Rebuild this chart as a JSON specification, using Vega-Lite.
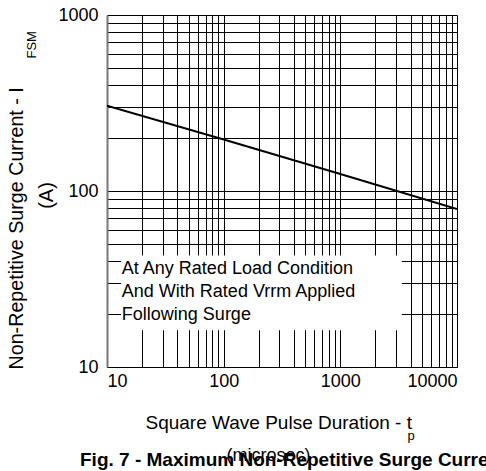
{
  "$schema": "https://vega.github.io/schema/vega-lite/v6.json",
  "width": 350,
  "height": 352,
  "autosize": {"type": "none"},
  "padding": {"left": 107, "top": 15, "right": 29, "bottom": 104},
  "background": "white",
  "config": {
    "view": {"stroke": null},
    "font": "Liberation Sans",
    "axis": {"labelFont": "Liberation Sans", "titleFont": "Liberation Sans", "titleFontWeight": "normal", "titleColor": "black", "labelColor": "black"}
  },
  "title": {
    "text": "Fig. 7 - Maximum Non-Repetitive Surge Current",
    "orient": "bottom",
    "anchor": "start",
    "frame": "group",
    "font": "Liberation Sans",
    "fontSize": 19,
    "fontWeight": "bold",
    "color": "black",
    "dx": -27,
    "offset": -13
  },
  "datasets": {
    "curve": [
      {"t": 10, "i": 305},
      {"t": 100, "i": 196},
      {"t": 1000, "i": 125},
      {"t": 10000, "i": 79}
    ],
    "box": [
      {"x1": 13.2, "x2": 3370, "y1": 43, "y2": 16.2}
    ],
    "note": [
      {"x": 13.4, "y": 33.8, "text": ["At Any Rated Load Condition", "And With Rated Vrrm Applied", "Following Surge"]}
    ]
  },
  "layer": [
    {
      "data": {"name": "curve"},
      "mark": {"type": "line", "color": "black", "strokeWidth": 2, "clip": true},
      "encoding": {
        "x": {
          "field": "t", "type": "quantitative",
          "scale": {"type": "log", "domain": [10, 10000], "nice": false},
          "axis": {
            "orient": "bottom",
            "values": [10, 20, 30, 40, 50, 60, 70, 80, 90, 100, 200, 300, 400, 500, 600, 700, 800, 900, 1000, 2000, 3000, 4000, 5000, 6000, 7000, 8000, 9000, 10000],
            "grid": true, "gridColor": "black", "gridOpacity": 1, "gridWidth": 1,
            "ticks": false,
            "domain": true, "domainColor": "black", "domainWidth": 1,
            "labelExpr": "datum.value == 10 || datum.value == 100 || datum.value == 1000 || datum.value == 10000 ? format(datum.value, 'd') : ''",
            "labelOverlap": false,
            "labelFontSize": 18,
            "labelPadding": 5,
            "title": "Square Wave Pulse Duration - t",
            "titleFontSize": 19,
            "titleX": 38, "titleY": 61,
            "titleAlign": "left", "titleBaseline": "alphabetic"
          }
        },
        "y": {
          "field": "i", "type": "quantitative",
          "scale": {"type": "log", "domain": [10, 1000], "nice": false},
          "axis": {
            "orient": "left",
            "values": [10, 20, 30, 40, 50, 60, 70, 80, 90, 100, 200, 300, 400, 500, 600, 700, 800, 900, 1000],
            "grid": true, "gridColor": "black", "gridOpacity": 1, "gridWidth": 1,
            "ticks": false,
            "domain": true, "domainColor": "#777777", "domainWidth": 2,
            "labelExpr": "datum.value == 10 || datum.value == 100 || datum.value == 1000 ? format(datum.value, 'd') : ''",
            "labelOverlap": false,
            "labelFontSize": 18,
            "labelPadding": 9,
            "labelBaseline": "middle",
            "title": "Non-Repetitive Surge Current - I",
            "titleFontSize": 19.7,
            "titleAngle": -90,
            "titleX": -85, "titleY": 354,
            "titleAlign": "left", "titleBaseline": "alphabetic"
          }
        }
      }
    },
    {
      "data": {"name": "box"},
      "mark": {"type": "rect", "fill": "white", "stroke": null},
      "encoding": {
        "x": {
          "field": "x1", "type": "quantitative",
          "scale": {"type": "log", "domain": [10, 10000], "nice": false},
          "axis": {
            "orient": "bottom", "labels": false, "ticks": false, "domain": false, "grid": false,
            "title": "(microsec)", "titleFontSize": 18,
            "titleX": 161, "titleY": 93,
            "titleAlign": "center", "titleBaseline": "alphabetic"
          }
        },
        "x2": {"field": "x2"},
        "y": {
          "field": "y1", "type": "quantitative",
          "scale": {"type": "log", "domain": [10, 1000], "nice": false},
          "axis": {
            "orient": "left", "labels": false, "ticks": false, "domain": false, "grid": false,
            "title": "(A)", "titleFontSize": 20, "titleAngle": -90,
            "titleX": -55, "titleY": 180,
            "titleAlign": "center", "titleBaseline": "alphabetic"
          }
        },
        "y2": {"field": "y2"}
      }
    },
    {
      "data": {"name": "note"},
      "mark": {"type": "text", "align": "left", "baseline": "alphabetic", "fontSize": 18, "lineHeight": 23, "font": "Liberation Sans", "color": "black"},
      "encoding": {
        "x": {
          "field": "x", "type": "quantitative",
          "scale": {"type": "log", "domain": [10, 10000], "nice": false},
          "axis": {
            "orient": "bottom", "labels": false, "ticks": false, "domain": false, "grid": false,
            "title": "p", "titleFontSize": 13,
            "titleX": 300, "titleY": 72,
            "titleAlign": "left", "titleBaseline": "alphabetic"
          }
        },
        "y": {
          "field": "y", "type": "quantitative",
          "scale": {"type": "log", "domain": [10, 1000], "nice": false},
          "axis": {
            "orient": "left", "labels": false, "ticks": false, "domain": false, "grid": false,
            "title": "FSM", "titleFontSize": 13, "titleAngle": -90,
            "titleX": -72, "titleY": 43,
            "titleAlign": "left", "titleBaseline": "alphabetic"
          }
        },
        "text": {"field": "text"}
      }
    }
  ],
  "resolve": {"axis": {"x": "independent", "y": "independent"}}
}
